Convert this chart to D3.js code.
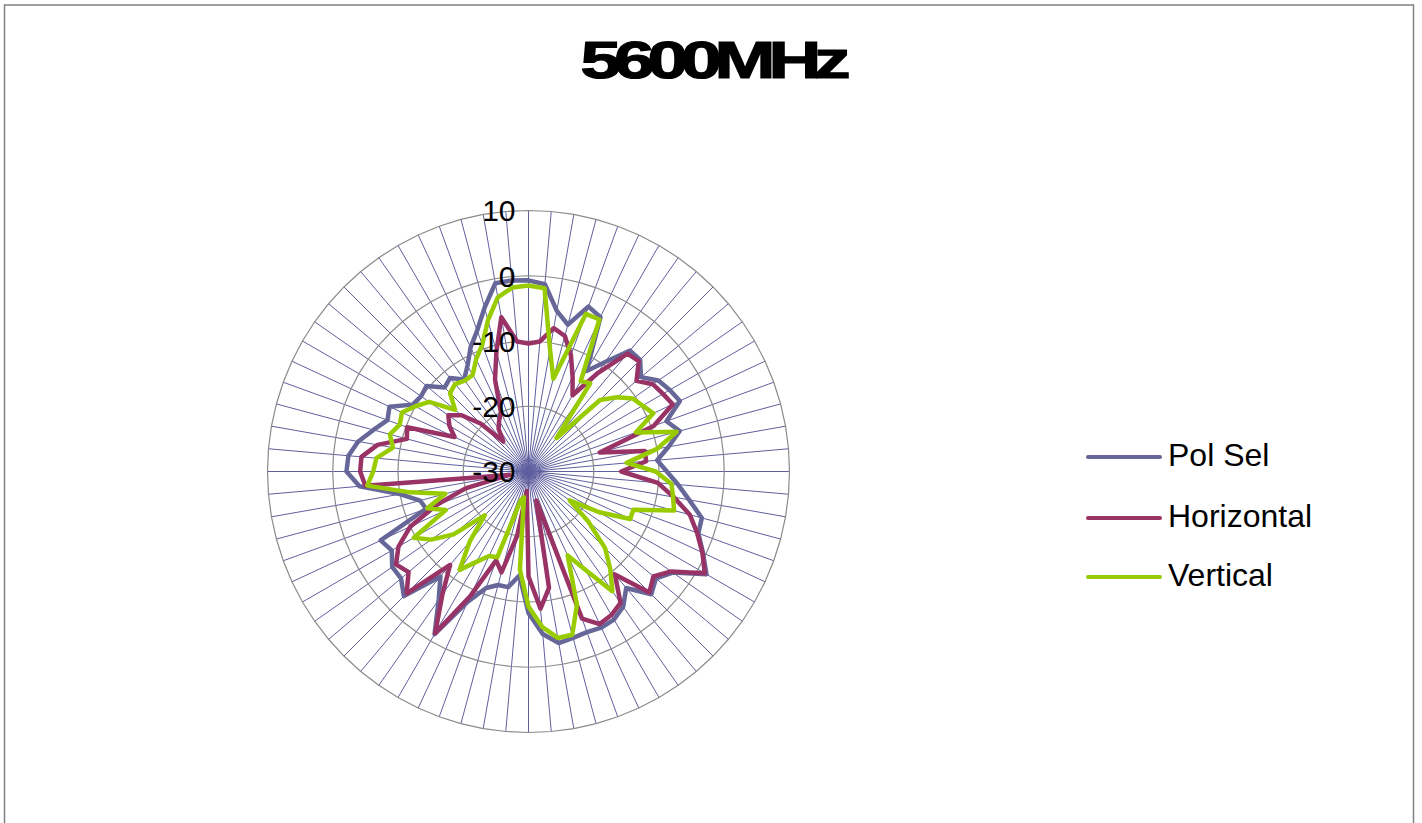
<!DOCTYPE html>
<html><head><meta charset="utf-8">
<script src="https://cdn.jsdelivr.net/npm/d3@7"></script>
<style>html,body{margin:0;padding:0;background:#fff;} svg{display:block;font-family:"Liberation Sans",Arial,sans-serif;}</style>
</head><body><svg id="c" width="1422" height="823"></svg>
<script>
const title = "5600MHz";
const angles = [0,5,10,15,20,25,30,35,40,45,50,55,60,65,70,75,80,85,90,95,100,105,110,115,120,125,130,135,140,145,150,155,160,165,170,175,180,185,190,195,200,205,210,215,220,225,230,235,240,245,250,255,260,265,270,275,280,285,290,295,300,305,310,315,320,325,330,335,340,345,350,355];
const tickValues = [-30,-20,-10,0,10];
const seriesNames = ["Pol Sel","Horizontal","Vertical"];
const seriesColors = ["#666699","#993366","#99cc00"];
const polSel = [-0.7,-1.2,-5,-6.7,-3.1,-3.9,-12.2,-9.5,-5.8,-5.8,-7.5,-5.7,-5,-4.4,-7.5,-6,-8.2,-10.2,-8.8,-7,-5,-2.5,-2.3,-0.5,1.5,-3,-4.5,-3.4,-6.7,-4.7,-3.8,-3.6,-3.8,-3.6,-3.3,-5,-8.3,-14,-12,-12,-11,-8,-1.2,-6,-9,-3,-4.5,-4.5,-5.8,-5,-13.3,-12.8,-10,-4,-2.1,-2.3,-3.5,-5.4,-7,-6.5,-9.5,-9.9,-9.6,-11.8,-11.3,-12.8,-11.3,-9,-7,-4,-0.7,-0.6];
const horizontal = [-10.4,-10,-7.7,-8.5,-11,-14,-16.5,-11.7,-6.4,-6.1,-8.4,-6.7,-6.2,-5.6,-9.6,-18.7,-11.9,-11.9,-15.8,-10.1,-7.4,-4.4,-2.5,-0.6,1.2,-3.3,-5,-3.8,-9.4,-5.4,-4.6,-4.2,-6,-25.4,-11.9,-8.9,-13.9,-27,-20,-14,-15.5,-9,-1.4,-7,-11.3,-3.6,-6,-5.2,-7,-10,-15,-20,-27,-4.9,-4.2,-4.3,-6.5,-10.7,-10.2,-17.5,-16,-15,-16.6,-19.6,-24,-22,-21,-20,-15,-11,-6,-10];
const vertical = [-1.5,-1.8,-11,-15.3,-4.3,-4.3,-14,-13.5,-23.3,-14.5,-12.3,-10.5,-9.8,-8.9,-12.5,-6.5,-10,-14.9,-10.5,-8,-7.5,-6.9,-12.9,-12.8,-17.5,-22.3,-18,-13.4,-10.5,-7.6,-12.6,-15.8,-8.3,-4.1,-4.1,-6.1,-9.3,-14.9,-26,-25.5,-16,-15.7,-14,-11.6,-16,-20.5,-15,-11.8,-9.7,-16,-13.5,-16.8,-11.6,-5.2,-6.2,-6.6,-8.9,-8,-9,-8.6,-10,-11.4,-15.3,-13,-12.5,-13,-12.9,-11,-9.3,-6,-2.9,-1.7];
const seriesData = [polSel, horizontal, vertical];

const svg = d3.select("#c");
svg.append("rect").attr("x",4.5).attr("y",5).attr("width",1409).attr("height",840)
  .attr("fill","#fff").attr("stroke","#808080").attr("stroke-width",1.5);

svg.append("text").attr("x",712).attr("y",78).attr("text-anchor","middle")
  .attr("font-size",51).attr("font-weight","bold").attr("letter-spacing",-5)
  .attr("textLength",263).attr("lengthAdjust","spacingAndGlyphs")
  .attr("fill","#000").attr("stroke","#000").attr("stroke-width",1.2).text(title);

const cx = 528.5, cy = 471.5, R = 261;
const r = d3.scaleLinear().domain([-30,10]).range([0,R]);
const ang = d3.scaleLinear().domain([0,360]).range([0,2*Math.PI]);
const g = svg.append("g").attr("transform",`translate(${cx},${cy})`);

g.selectAll("line.spoke").data(angles).join("line").attr("class","spoke")
  .attr("x1",0).attr("y1",0)
  .attr("x2",d=>r(10)*Math.sin(ang(d))).attr("y2",d=>-r(10)*Math.cos(ang(d)))
  .attr("stroke","#5f5f9f").attr("stroke-width",1);

tickValues.filter(v=>v>-30).forEach(v=>{
  const ring = d3.lineRadial().angle(d=>ang(d)).radius(()=>r(v)).curve(d3.curveLinearClosed);
  g.append("path").attr("d",ring(angles)).attr("fill","none").attr("stroke","#8a8a8a").attr("stroke-width",1.2);
});

seriesData.forEach((vals,i)=>{
  const line = d3.lineRadial().angle((d,j)=>ang(angles[j])).radius(d=>r(d)).curve(d3.curveLinearClosed);
  g.append("path").attr("d",line(vals)).attr("fill","none")
    .attr("stroke",seriesColors[i]).attr("stroke-width",4.5).attr("stroke-linejoin","round");
});

g.selectAll("text.tick").data(tickValues).join("text").attr("class","tick")
  .attr("x",-13).attr("y",d=>-r(d)).attr("dy","0.36em").attr("text-anchor","end")
  .attr("font-size",30).attr("fill","#000").text(d=>d);

const lg = svg.append("g");
const legY = [457,518,577];
seriesNames.forEach((n,i)=>{
  lg.append("line").attr("x1",1088).attr("x2",1160).attr("y1",legY[i]).attr("y2",legY[i])
    .attr("stroke",seriesColors[i]).attr("stroke-width",4).attr("stroke-linecap","round");
  lg.append("text").attr("x",1168).attr("y",legY[i]+9).attr("font-size",32).attr("fill","#000").text(n);
});
</script></body></html>
